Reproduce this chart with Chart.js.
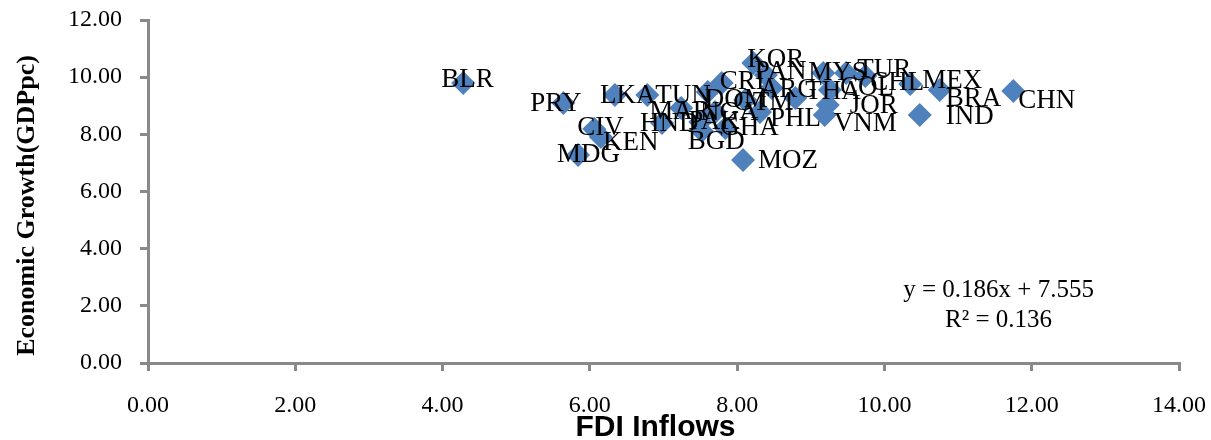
<!DOCTYPE html>
<html>
<head>
<meta charset="utf-8">
<script src="https://cdn.jsdelivr.net/npm/chart.js@4.4.1/dist/chart.umd.min.js"></script>
<style>
  html, body { margin: 0; padding: 0; background: #ffffff; }
  #wrap { width: 1211px; height: 440px; }
</style>
</head>
<body>
<div id="wrap"><canvas id="c" width="1211" height="440"></canvas></div>
<script>
// ---- data ----
const countries = ["BLR","PRY","LKA","TUN","CIV","KEN","MDG","HND","MAR","PAK","NGA","BGD","GHA","DOM","CRI","GTM","KOR","PAN","ARG","THA","PHL","MOZ","MYS","TUR","CHL","MEX","BRA","IND","CHN","COL","JOR","VNM"];
const fdiInflows = [4.28,5.64,6.34,6.78,6.06,6.15,5.84,6.98,7.24,7.50,7.70,7.52,7.84,7.60,7.79,8.11,8.22,8.39,8.47,8.79,8.31,8.08,9.17,9.48,9.74,10.35,10.75,10.48,11.75,9.26,9.23,9.19];
const gdpGrowth  = [9.80,9.10,9.38,9.38,8.19,7.91,7.28,8.40,8.92,8.43,8.78,8.12,8.22,9.48,9.80,9.20,10.50,10.08,9.62,9.27,8.78,7.10,10.15,10.15,10.04,9.76,9.55,8.68,9.52,9.55,9.03,8.68];
const xTicks = [0,2,4,6,8,10,12,14];
const yTicks = [0,2,4,6,8,10,12];
const equationLines = ["y = 0.186x + 7.555", "R\u00B2 = 0.136"];
const xTitle = "FDI Inflows";
const yTitle = "Economic Growth(GDPpc)";

// label nudges (pixels, relative to each marker) — styling only
const labelDx = [-22,-33,-15,8,-17,2,-21,-22,-32,-12,-15,-14,-5,-3,-2,-12,-6,-11,-12,10,10,15,-15,11,5,12,6,26,5,10,22,9];
const labelDy = [-3,1,1,1,-1,6,0,1,4,0,1,11,0,8,-1,3,-3,-3,2,-6,7,1,0,-3,7,-3,9,2,10,-2,1,9];

const points = countries.map((c, i) => ({ x: fdiInflows[i], y: gdpGrowth[i] }));

const axisColor = '#898989';
const serif = '"Liberation Serif", "Times New Roman", serif';

const labelPlugin = {
  id: 'labels',
  afterDatasetsDraw(chart) {
    const ctx = chart.ctx;
    const meta = chart.getDatasetMeta(0);
    ctx.save();
    ctx.fillStyle = '#000000';
    ctx.font = '27px ' + serif;
    ctx.textAlign = 'left';
    ctx.textBaseline = 'middle';
    meta.data.forEach((el, i) => {
      ctx.fillText(countries[i], el.x + labelDx[i], el.y + labelDy[i]);
    });
    // trendline equation
    ctx.font = '25px ' + serif;
    ctx.textAlign = 'center';
    const xs = chart.scales.x, ys = chart.scales.y;
    const ex = xs.getPixelForValue(11.55);
    ctx.fillText(equationLines[0], ex, ys.getPixelForValue(2.55));
    ctx.fillText(equationLines[1], ex, ys.getPixelForValue(1.5));
    // x axis title
    ctx.font = 'bold 30px "Liberation Sans", Arial, sans-serif';
    ctx.fillText(xTitle, (xs.left + xs.right) / 2 - 8, 428);
    // y axis title
    ctx.save();
    ctx.translate(27, (ys.top + ys.bottom) / 2 + 14);
    ctx.rotate(-Math.PI / 2);
    ctx.font = 'bold 26px ' + serif;
    ctx.textAlign = 'center';
    ctx.fillText(yTitle, 0, 0);
    ctx.restore();
    ctx.restore();
  }
};

new Chart(document.getElementById('c'), {
  type: 'scatter',
  data: {
    datasets: [{
      data: points,
      pointStyle: 'rectRot',
      pointRadius: 12,
      pointHoverRadius: 12,
      backgroundColor: '#4F81BD',
      borderColor: '#4F81BD',
      borderWidth: 0
    }]
  },
  options: {
    responsive: false,
    animation: false,
    devicePixelRatio: 1,
    layout: { padding: { left: 0, top: 20, right: 32, bottom: 0 } },
    plugins: { legend: { display: false }, tooltip: { enabled: false } },
    scales: {
      x: {
        type: 'linear',
        min: 0, max: 14,
        afterBuildTicks(scale) { scale.ticks = xTicks.map(v => ({ value: v })); },
        afterFit(scale) { scale.height = 77; scale.paddingLeft = 0; scale.paddingRight = 0; },
        ticks: {
          padding: 20,
          color: '#000000',
          font: { family: serif, size: 24 },
          callback: v => Number(v).toFixed(2)
        },
        grid: { display: true, drawOnChartArea: false, drawTicks: true, tickLength: 8, color: axisColor, lineWidth: 3 },
        border: { display: true, color: axisColor, width: 3 },
        title: { display: false }
      },
      y: {
        type: 'linear',
        min: 0, max: 12,
        afterBuildTicks(scale) { scale.ticks = yTicks.map(v => ({ value: v })); },
        afterFit(scale) { scale.width = 148; scale.paddingTop = 0; scale.paddingBottom = 0; },
        ticks: {
          padding: 18,
          color: '#000000',
          font: { family: serif, size: 24 },
          callback: v => Number(v).toFixed(2)
        },
        grid: { display: true, drawOnChartArea: false, drawTicks: true, tickLength: 8, color: axisColor, lineWidth: 3 },
        border: { display: true, color: axisColor, width: 3 }
      }
    }
  },
  plugins: [labelPlugin]
});
</script>
</body>
</html>
